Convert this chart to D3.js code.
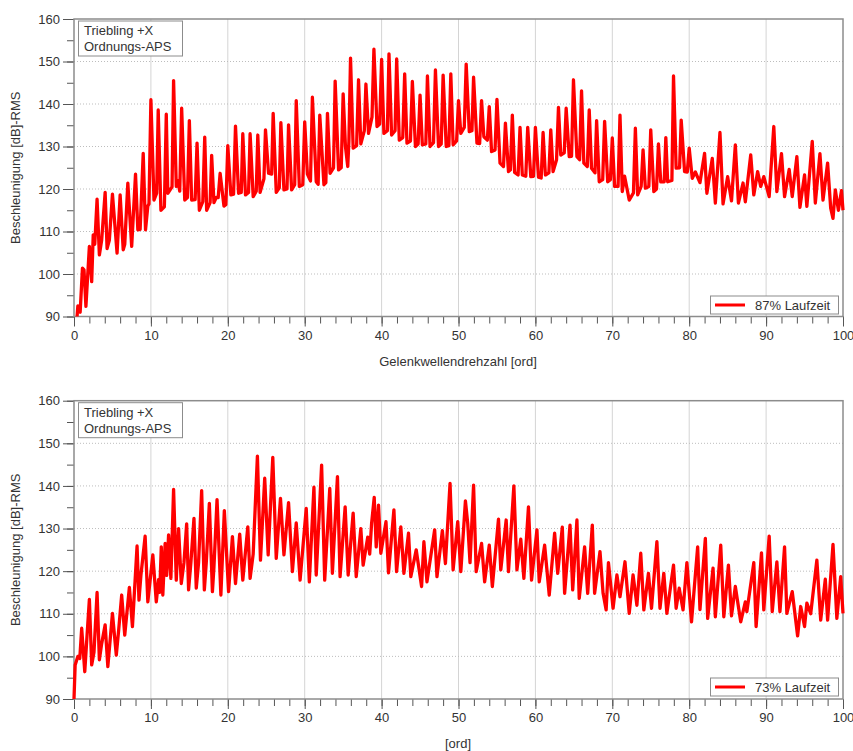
<!DOCTYPE html>
<html>
<head>
<meta charset="utf-8">
<script src="https://cdn.jsdelivr.net/npm/d3@7"></script>
<style>
body { margin: 0; background: #fff; }
text { font-family: "Liberation Sans", Arial, sans-serif; }
</style>
</head>
<body>
<div id="chart"></div>
<script>
/************** Ordnungs-APS, Triebling +X **************/

var titleLines = ['Triebling +X', 'Ordnungs-APS'];
var yLabel = 'Beschleunigung [dB]-RMS';
var xLabels = ['Gelenkwellendrehzahl [ord]', '[ord]'];
var legendNames = ['87% Laufzeit', '73% Laufzeit'];
var xTicks = [0, 10, 20, 30, 40, 50, 60, 70, 80, 90, 100];
var yTicks = [90, 100, 110, 120, 130, 140, 150, 160];

// 87% Laufzeit (oben)
var ord87 = [0.4,0.5,0.8,1.1,1.3,1.55,2.0,2.3,2.5,2.7,3.0,3.3,3.6,4.05,4.3,4.6,5.0,5.6,6.0,6.4,6.6,7.0,7.5,8.0,8.3,8.6,9.0,9.3,9.6,9.75,
	10.0,10.4,10.75,10.95,11.3,11.75,12.0,12.2,12.75,12.95,13.3,13.5,13.75,14.0,14.4,14.75,15.0,15.3,15.75,16.0,16.3,16.75,17.0,17.25,17.7,17.9,18.2,18.5,18.75,19.0,19.5,19.75,
	20.0,20.4,20.75,21.0,21.4,21.75,21.95,22.3,22.7,22.9,23.3,23.7,23.9,24.2,24.7,24.9,25.3,25.7,25.9,26.3,26.7,26.9,27.3,27.7,27.9,28.3,28.7,28.9,29.3,29.75,
	30.0,30.35,30.75,31.0,31.5,31.75,31.96,32.5,32.75,32.96,33.3,33.75,33.96,34.4,34.75,35.0,35.3,35.6,35.75,35.96,36.3,36.75,37.0,37.3,37.75,37.96,38.3,38.75,39.0,39.4,39.75,
	40.0,40.3,40.75,40.96,41.3,41.75,41.96,42.3,42.75,43.0,43.3,43.75,44.0,44.4,44.75,45.0,45.3,45.75,45.96,46.3,46.75,47.0,47.4,47.75,48.0,48.4,48.75,49.0,49.3,49.75,
	50.0,50.3,50.75,51.0,51.4,51.75,51.96,52.4,52.75,53.0,53.3,53.75,54.0,54.3,54.75,55.0,55.4,55.85,56.1,56.5,56.75,57.0,57.3,57.75,58.0,58.3,58.75,59.0,59.4,59.75,
	60.0,60.4,60.75,61.0,61.3,61.75,62.0,62.3,62.75,63.0,63.3,63.75,64.0,64.4,64.7,64.95,65.4,65.75,66.0,66.3,66.75,67.0,67.3,67.75,67.96,68.3,68.75,69.0,69.4,69.75,
	70.0,70.3,70.75,71.0,71.3,71.6,72.2,72.75,73.0,73.3,73.75,74.0,74.3,74.75,75.0,75.4,75.75,76.0,76.3,76.75,76.96,77.2,77.75,77.96,78.3,78.75,78.96,79.4,79.75,
	80.0,80.4,80.8,81.4,82.0,82.3,83.0,83.4,84.0,84.4,85.0,85.5,86.0,86.4,87.0,87.3,88.0,88.4,88.9,89.3,89.7,
	90.4,91.0,91.4,92.0,92.4,93.0,93.4,94.0,94.4,95.0,95.3,96.0,96.4,97.0,97.4,98.0,98.4,98.7,99.0,99.4,99.8,100.0];
var db87 = [90,92.5,91,101.4,101,92.4,106.5,98.2,109.2,107,117.6,104.5,108,119.2,106,108,118.8,104.9,118.6,105.7,107,121.4,106.5,123.5,110.4,110.5,128.4,110.4,116,116.5,
	141,117.4,119,138.6,115,115.8,137.6,119,120.5,145.5,120.6,122,119.5,139,117.4,118,136.1,117.4,117.5,130.8,115,117,132.2,115,116.8,127.9,116.8,118,118,123.7,116,116.3,
	130.2,118.6,118.8,134.8,119,119.2,133,118.6,119.2,133,118.2,119.5,132.7,119.2,122.4,133.9,123.7,123.5,137.8,119.2,120.3,135.6,119.8,120,135.1,119.8,121,140.8,120.6,121,
	135.8,123.5,121.9,141.6,121.7,121.1,137.4,121,121.5,137.8,123.7,125,145.4,124.5,125,142.4,130,125.3,131.3,150.8,129.6,130.2,145.7,130.6,133.7,144.7,133.1,136.9,152.9,134.7,135.3,
	150.5,133.1,133.7,151.8,132.7,133.7,150.6,131.5,132.1,147.1,130.8,131.3,145.3,130,130.6,142.1,130.4,130.6,146.6,130,130.9,148,130,130.6,146.8,130,130.2,147.1,130.4,131.3,
	140.8,133.1,134.5,149.4,133.5,133.7,146.3,130.8,130.7,140.8,132.3,131.5,139.4,128.8,129.2,141.1,126.1,125.3,135.5,124.1,124.5,137.4,123.9,123.3,134.5,123.3,123,134.5,122.9,123,
	134.5,122.8,122.6,133.3,123.3,123.8,133.9,124.1,126.9,139.2,128,128.5,139,127.6,127.7,145.7,127.6,126.9,143.1,126.1,125.3,138.6,124.9,123.8,136.1,121.7,122.2,135.9,121.7,122.2,
	132,120.6,120.6,137.4,119.4,123,117.4,119.1,134.3,118.6,120.6,129.2,120.2,120.6,133.9,119.4,120,130.6,121.7,121.7,132.1,121.7,122,146.6,124.9,125,136.2,124.1,124,
	129.6,122.5,124,121.5,128.4,119,127.2,116.7,133.3,116.5,122.9,117.2,130.4,116.7,121.4,117,128,118.6,124.1,120.6,122.9,
	118.2,134.7,119.4,128.3,118.2,124.6,118.2,127.6,115.7,123.3,115.9,131.2,116.7,128.3,117.4,126.1,115.5,113.1,119.8,115,119.6,115];

// 73% Laufzeit (unten)
var ord73 = [0,0.15,0.5,0.75,1.0,1.4,1.7,2.0,2.3,2.6,3.0,3.3,3.6,4.05,4.4,5.0,5.5,5.8,6.2,6.6,7.2,7.6,8.2,8.45,8.7,9.25,9.6,
	10.25,10.7,11.0,11.15,11.35,11.55,11.85,12.05,12.3,12.6,12.95,13.3,13.6,13.95,14.3,14.65,14.9,15.2,15.6,15.9,16.2,16.6,16.95,17.2,17.6,18.0,18.2,18.6,19.1,19.55,
	20.1,20.6,21.0,21.55,21.95,22.6,22.9,23.3,23.85,24.25,24.8,25.25,25.85,26.3,26.85,27.3,27.9,28.4,28.9,29.4,
	30.2,30.6,31.2,31.5,32.2,32.6,33.26,33.6,34.26,34.6,35.26,35.65,36.3,36.7,37.3,37.6,38.2,38.45,38.7,39.04,39.3,39.6,39.9,
	40.57,40.9,41.6,41.95,42.5,42.9,43.5,43.8,44.5,45.2,45.5,45.9,46.9,47.2,47.9,48.3,48.9,49.3,49.9,
	50.3,50.9,51.2,51.5,51.96,52.3,53.0,53.4,54.0,54.4,55.2,55.5,56.2,56.5,57.2,57.6,58.1,58.5,59.1,59.5,
	60.2,60.5,61.2,61.8,62.5,62.9,63.5,63.8,64.5,64.85,65.4,65.7,66.4,66.8,67.4,67.7,68.4,68.8,69.2,69.5,
	70.1,70.6,71.0,71.65,72.2,72.7,73.2,73.7,74.1,74.7,75.1,75.8,76.2,76.7,77.1,77.96,78.3,78.7,79.2,79.7,
	80.3,81.1,81.4,82.1,82.4,83.1,83.4,84.1,84.5,85.1,85.5,86.0,86.7,87.3,87.5,88.4,88.7,89.4,89.7,
	90.4,90.8,91.4,91.8,92.4,92.7,93.4,94.1,94.5,95.0,95.3,95.8,96.6,97.1,97.7,98.0,98.7,99.2,99.7,100.0];
var db73 = [90,98,100,99.5,106.6,96.4,105,113.4,98,101,115,99.2,103,107.4,97.6,110.1,100.3,106,114.4,105,116.2,107,125.9,113.2,119,128.2,112.8,
	123.8,112.8,118,115,125.7,114.4,126.5,119,128.5,118.3,139.2,117.9,130,117.1,122,131.1,115.6,122,132.4,116,122,138.9,115.6,122,135.9,115.2,121,136.8,114.4,134.2,
	115.2,128.1,117.1,128.7,117.9,130.4,118.3,124,147,122.6,141.8,123.8,146.7,123,137.1,123.8,136.1,119.9,131.3,117.9,
	134.7,117.5,139.7,119.1,144.9,117.9,139.4,119.5,142.2,118.7,135.1,119.1,133.6,118.7,130,121.4,128,124,131.2,137.3,125.7,135.5,124.2,
	131.6,119.6,134.4,119.9,130.4,119.5,128.9,118.7,125,116.4,126.9,117.5,129.7,118.7,129.5,121.8,140.6,120.3,131.6,
	119.9,136.5,131.2,122,140.2,119.9,126.5,117.5,126.1,116.4,132.2,120.3,132,119.9,140,120.3,127.5,118.3,135.1,117.9,
	129.7,117.5,126.1,114.4,128.9,119.5,130.3,114.8,130.8,115.6,132,113.6,125.7,114.8,130.8,114.8,124.6,114.8,110.9,122,
	111.3,119.1,114,122.2,110.1,119.1,112,124.2,110.9,119.5,111.3,126.9,111.3,119.5,110.1,121.4,111.3,116,110.9,122,
	108.1,125.7,111,127.7,108.9,120.7,109.3,126.1,109.3,121.4,109.5,116.4,108.1,112.8,110.5,122,107,124.3,110.9,
	128.2,110.5,122.2,110.5,125.7,110.1,115.2,104.8,111.7,107,112.5,110,122.6,108.5,118.1,108.5,126.3,108.9,118.7,110.1];

var width = 853;
var height = 751;

var svg = d3.select("#chart")
	.append("svg")
	.attr("width", width)
	.attr("height", height);

function panel(top, bottom, ords, dbs, xLabel, xLabelY, legendName, legendY){
	var x = d3.scaleLinear().domain([0, 100]).range([74, 843]);
	var y = d3.scaleLinear().domain([90, 160]).range([bottom, top]);
	var g = svg.append("g");

	// grid
	g.selectAll(".vgrid")
		.data(xTicks.slice(1, -1))
		.enter().append("line")
		.attr("x1", function(d){ return x(d); })
		.attr("x2", function(d){ return x(d); })
		.attr("y1", top)
		.attr("y2", bottom)
		.style("stroke", "#d4d4d4")
		.style("stroke-width", "1px");

	g.selectAll(".hgrid")
		.data(yTicks.slice(1, -1))
		.enter().append("line")
		.attr("x1", 74)
		.attr("x2", 843)
		.attr("y1", function(d){ return y(d); })
		.attr("y2", function(d){ return y(d); })
		.style("stroke", "#bdbdbd")
		.style("stroke-width", "1px")
		.style("stroke-dasharray", "1,2");

	// axes
	var xAxisMinor = d3.axisBottom(x).tickValues(d3.range(0, 101, 2)).tickSize(7).tickFormat("");
	var xAxis = d3.axisBottom(x).tickValues(xTicks).tickSize(10).tickPadding(4).tickFormat(d3.format("d"));
	var yAxisMinor = d3.axisLeft(y).tickValues(d3.range(90, 161, 5)).tickSize(7).tickFormat("");
	var yAxis = d3.axisLeft(y).tickValues(yTicks).tickSize(11).tickPadding(3).tickFormat(d3.format("d"));

	[xAxisMinor, xAxis].forEach(function(a){
		g.append("g").attr("transform", "translate(0," + bottom + ")").call(a);
	});
	[yAxisMinor, yAxis].forEach(function(a){
		g.append("g").attr("transform", "translate(74,0)").call(a);
	});
	g.selectAll(".domain").remove();
	g.selectAll(".tick line").style("stroke", "#555");
	g.selectAll(".tick text")
		.style("font-family", '"Liberation Sans", Arial, sans-serif')
		.style("font-size", "13px")
		.style("fill", "#333");

	// frame
	g.append("rect")
		.attr("x", 74)
		.attr("y", top)
		.attr("width", 843 - 74)
		.attr("height", bottom - top)
		.attr("fill", "none")
		.style("stroke", "#8c8c8c")
		.style("stroke-width", "1.5px");

	// curve
	var pts = ords.map(function(o, i){ return [o, dbs[i]]; });
	var line = d3.line()
		.x(function(d){ return x(d[0]); })
		.y(function(d){ return y(d[1]); });
	g.append("path")
		.datum(pts)
		.attr("d", line)
		.attr("fill", "none")
		.style("stroke", "#ff0000")
		.style("stroke-width", "3.3px")
		.style("stroke-linejoin", "round");

	// info box
	g.append("rect")
		.attr("x", 78.5)
		.attr("y", top + 2)
		.attr("width", 104)
		.attr("height", 35)
		.attr("fill", "#fff")
		.style("stroke", "#8c8c8c")
		.style("stroke-width", "1px");
	for (var i = 0; i < titleLines.length; i++){
		g.append("text")
			.attr("x", 84)
			.attr("y", top + 16 + i * 16)
			.style("font-size", "13px")
			.style("fill", "#333")
			.text(titleLines[i]);
	}

	// legend
	g.append("rect")
		.attr("x", 710.5)
		.attr("y", legendY)
		.attr("width", 128)
		.attr("height", 18)
		.attr("fill", "#fff")
		.style("stroke", "#8c8c8c")
		.style("stroke-width", "1px");
	g.append("line")
		.attr("x1", 715)
		.attr("x2", 745)
		.attr("y1", legendY + 9)
		.attr("y2", legendY + 9)
		.style("stroke", "#ff0000")
		.style("stroke-width", "3px");
	g.append("text")
		.attr("x", 755)
		.attr("y", legendY + 14)
		.style("font-size", "13px")
		.style("fill", "#333")
		.text(legendName);

	// labels
	g.append("text")
		.attr("x", 458)
		.attr("y", xLabelY)
		.attr("text-anchor", "middle")
		.style("font-size", "13px")
		.style("fill", "#333")
		.text(xLabel);
	g.append("text")
		.attr("transform", "translate(20," + ((top + bottom) / 2) + ") rotate(-90)")
		.attr("text-anchor", "middle")
		.style("font-size", "13px")
		.style("fill", "#333")
		.text(yLabel);
}

panel(19, 316.5, ord87, db87, xLabels[0], 366, legendNames[0], 296);
panel(400.7, 699, ord73, db73, xLabels[1], 748, legendNames[1], 678);
</script>
</body>
</html>
